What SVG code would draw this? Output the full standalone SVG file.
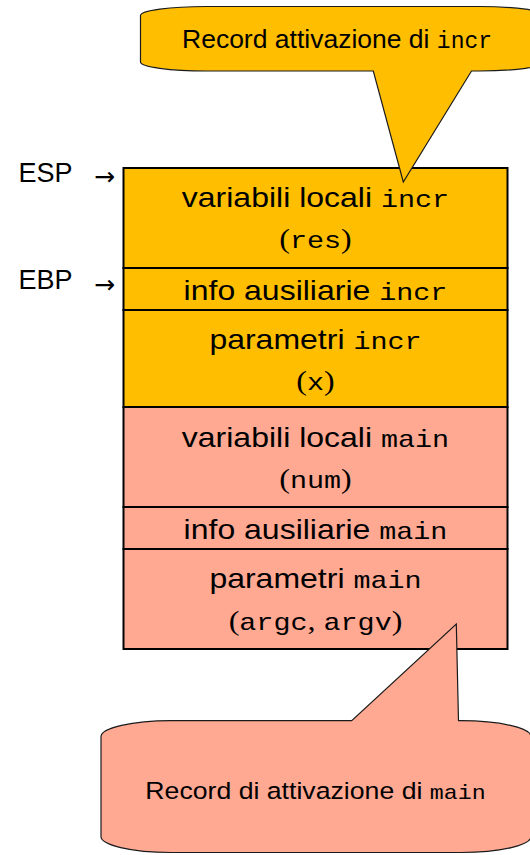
<svg xmlns="http://www.w3.org/2000/svg" width="530" height="855" viewBox="0 0 530 855">
<defs>
<style>
.row{stroke:#000;stroke-width:2}
.y{fill:#FFBF00}
.p{fill:#FFA993}
.call{stroke:#1a1a1a;stroke-width:1.2;stroke-linejoin:miter}
.s{font-family:"Liberation Sans",Arial,sans-serif;fill:#000}
.m{font-family:"Liberation Mono","Courier New",monospace}
.r{font-family:"Liberation Serif","Times New Roman",serif}
.bt{font-size:27px;text-anchor:middle}
.lbl{font-size:27px}
.arr{font-family:"DejaVu Sans",sans-serif;font-size:25px;fill:#000}
</style>
</defs>
<rect width="530" height="855" fill="#fff"/>

<g id="row-locali-incr">
<rect class="row y" x="123.5" y="168" width="384" height="100"/>
<g transform="translate(315.5,207) scale(1.185,1)"><text class="s bt">variabili locali <tspan class="m" font-size="24">incr</tspan></text></g>
<g transform="translate(315.5,248) scale(1.185,1)"><text class="s bt"><tspan class="r">(</tspan><tspan class="m" font-size="24">res</tspan><tspan class="r">)</tspan></text></g>
</g>
<g id="row-info-incr">
<rect class="row y" x="123.5" y="268" width="384" height="42"/>
<g transform="translate(315.5,300) scale(1.185,1)"><text class="s bt">info ausiliarie <tspan class="m" font-size="24">incr</tspan></text></g>
</g>
<g id="row-param-incr">
<rect class="row y" x="123.5" y="310" width="384" height="97"/>
<g transform="translate(315.5,349) scale(1.185,1)"><text class="s bt">parametri <tspan class="m" font-size="24">incr</tspan></text></g>
<g transform="translate(315.5,390) scale(1.185,1)"><text class="s bt"><tspan class="r">(</tspan><tspan class="m" font-size="24">x</tspan><tspan class="r">)</tspan></text></g>
</g>
<g id="row-locali-main">
<rect class="row p" x="123.5" y="407" width="384" height="100"/>
<g transform="translate(315.5,446.5) scale(1.185,1)"><text class="s bt">variabili locali <tspan class="m" font-size="24">main</tspan></text></g>
<g transform="translate(315.5,488) scale(1.185,1)"><text class="s bt"><tspan class="r">(</tspan><tspan class="m" font-size="24">num</tspan><tspan class="r">)</tspan></text></g>
</g>
<g id="row-info-main">
<rect class="row p" x="123.5" y="507" width="384" height="42"/>
<g transform="translate(315.5,538.5) scale(1.185,1)"><text class="s bt">info ausiliarie <tspan class="m" font-size="24">main</tspan></text></g>
</g>
<g id="row-param-main">
<rect class="row p" x="123.5" y="549" width="384" height="100"/>
<g transform="translate(315.5,588) scale(1.185,1)"><text class="s bt">parametri <tspan class="m" font-size="24">main</tspan></text></g>
<g transform="translate(315.5,629.5) scale(1.185,1)"><text class="s bt"><tspan class="r">(</tspan><tspan class="m" font-size="24">argc</tspan><tspan class="r">, </tspan><tspan class="m" font-size="24">argv</tspan><tspan class="r">)</tspan></text></g>
</g>

<g id="label-esp">
<text class="s lbl" x="18.6" y="181.7">ESP</text>
</g>
<g id="label-ebp">
<text class="s lbl" x="18.6" y="289.3">EBP</text>
</g>

<g id="connectors">
<text class="arr" x="94" y="184.5">→</text>
<text class="arr" x="94" y="293">→</text>
</g>

<g id="callout-incr">
<path class="call y" d="M206.5,6.5 H479 A66,9 0 0 1 545,15.5 V62 A66,9 0 0 1 479,71 H471.5 L403.3,182 L373.3,71 H206.5 A66,9 0 0 1 140.5,62 V15.5 A66,9 0 0 1 206.5,6.5 Z"/>
<text class="s" x="182" y="48.3" font-size="26.5">Record attivazione di <tspan class="m" font-size="23">incr</tspan></text>
</g>

<g id="callout-main">
<path class="call p" d="M171,720.7 H351.7 L456.3,624 L458.5,720.7 H461 A70,16 0 0 1 531,736.7 V836 A70,16 0 0 1 461,852.5 H171 A70,16 0 0 1 101,836 V736.7 A70,16 0 0 1 171,720.7 Z"/>
<g transform="translate(145.3,799.3) scale(1.125,1)"><text class="s" x="0" y="0" font-size="23.7">Record di attivazione di <tspan class="m" font-size="20.7">main</tspan></text></g>
</g>
</svg>
